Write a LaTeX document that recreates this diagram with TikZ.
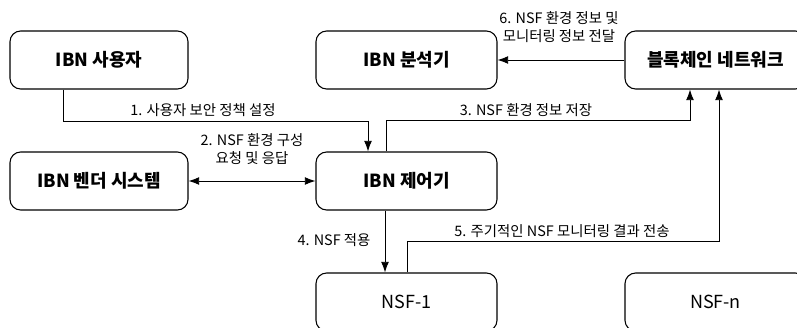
\documentclass[tikz,border=0pt]{standalone}
\usepackage{fontspec}
\setmainfont{Noto Sans CJK KR}
\usetikzlibrary{arrows.meta,calc}

\tikzset{
  blk/.style={draw=black, line width=0.8pt, rounded corners=8pt, minimum width=135.75pt, minimum height=43.5pt, inner sep=0pt, font=\fontsize{13.5}{16}\selectfont\bfseries},
  nsfblk/.style={blk, font=\fontsize{13.5}{16}\selectfont},
  arr/.style={draw=black, line width=0.7pt, -{Latex[length=8pt,width=6pt]}},
  lbl/.style={font=\fontsize{10.8}{13}\selectfont, align=center, inner sep=1pt}
}

\begin{document}
\begin{tikzpicture}[x=0.75pt, y=-0.75pt]

   \useasboundingbox (0,0) rectangle (797,328);
   \clip (0,0) rectangle (797,328);

   % boxes
   \node[blk, minimum width=133.5pt] (user) at (99,60) {IBN 사용자};
   \node[blk] (analyzer) at (406.5,60) {IBN 분석기};
   \node[blk] (chain) at (715.5,60) {블록체인 네트워크};

   \node[blk, minimum width=133.5pt] (vendor) at (99,181) {IBN 벤더 시스템};
   \node[blk] (ctrl) at (406.5,181) {IBN 제어기};

   \node[nsfblk] (nsf1) at (406.5,302) {NSF-1};
   \node[nsfblk] (nsfn) at (715.5,302) {NSF-n};

   % connectors
   \draw[arr] ($(user.south)+(-36,0)$) -- ++(0,32) -| ($(ctrl.north)+(-38.5,0)$);
   \draw[arr] ($(ctrl.north)+(-20.5,0)$) -- ++(0,-31) -| ($(chain.south)+(-25.5,0)$);
   \draw[arr, {Latex[length=8pt,width=6pt]}-{Latex[length=8pt,width=6pt]}] (vendor.east) -- (ctrl.west);
   \draw[arr] ($(ctrl.south)+(-21.5,0)$) -- ($(nsf1.north)+(-21.5,0)$);
   \draw[arr] ($(nsf1.north)+(0.5,0)$) -- ++(0,-31) -| ($(chain.south)+(3.5,0)$);
   \draw[arr] (chain.west) -- (analyzer.east);

   % labels
   \node[lbl] (l1) at (203,110) {1. 사용자 보안 정책 설정};
   \node[lbl] (l2) at (252,149) {2. NSF 환경 구성\\요청 및 응답};
   \node[lbl] (l3) at (526,110) {3. NSF 환경 정보 저장};
   \node[lbl] (l4) at (334,240) {4. NSF 적용};
   \node[lbl] (l5) at (562,231) {5. 주기적인 NSF 모니터링 결과 전송};
   \node[lbl] (l6) at (559,27) {6. NSF 환경 정보 및\\모니터링 정보 전달};

\end{tikzpicture}
\end{document}
